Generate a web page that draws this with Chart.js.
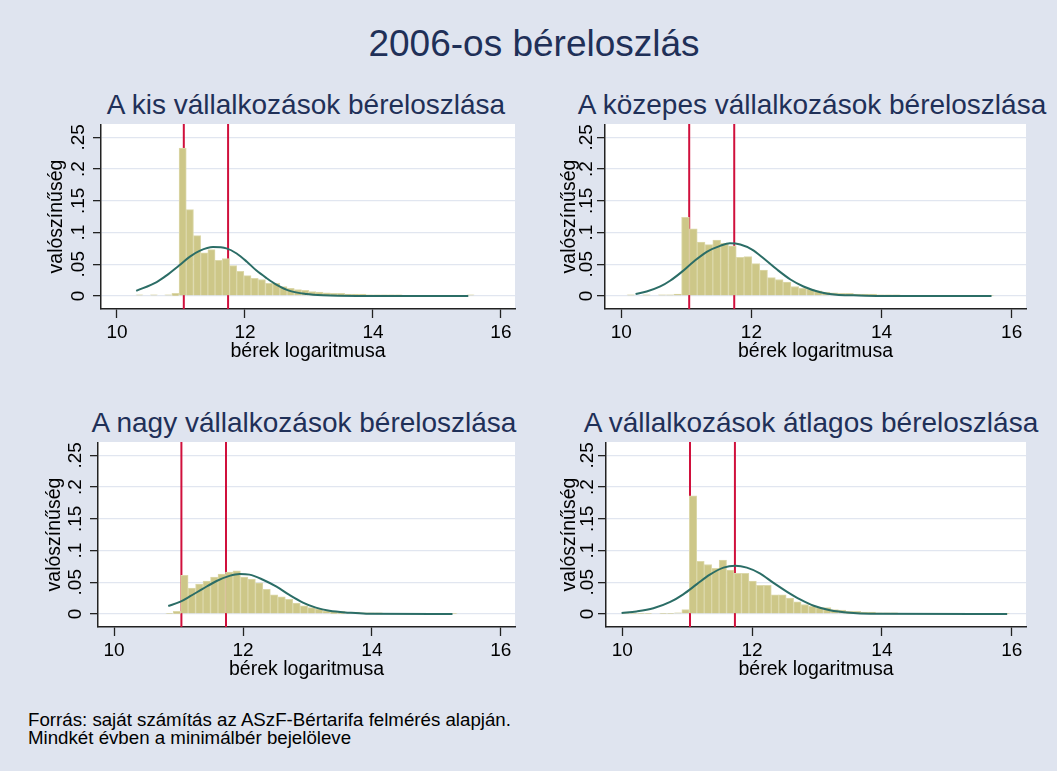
<!DOCTYPE html>
<html>
<head>
<meta charset="utf-8">
<title>2006-os béreloszlás</title>
<script src="https://cdn.jsdelivr.net/npm/chart.js@4.4.1/dist/chart.umd.min.js"></script>
<style>
  html, body { margin: 0; padding: 0; }
  body {
    width: 1057px; height: 771px; position: relative; overflow: hidden;
    background: #dfe4ef;
    font-family: "Liberation Sans", Arial, sans-serif;
  }
  .main-title {
    position: absolute; left: 0; top: 25px; width: 1068px;
    text-align: center; font-size: 37px; line-height: 37px; color: #1f3058;
  }
  .panel-title {
    position: absolute; width: 600px; text-align: center;
    font-size: 28px; line-height: 28px; color: #1f3058; white-space: nowrap;
  }
  .note {
    position: absolute; left: 28px; top: 711px;
    font-size: 18.7px; line-height: 18.3px; color: #000;
  }
  canvas { position: absolute; }
</style>
</head>
<body>

<div class="main-title">2006-os béreloszlás</div>

<div class="panel-title" style="left: 6px; top: 91px;">A kis vállalkozások béreloszlása</div>
<div class="panel-title" style="left: 512px; top: 91px;">A közepes vállalkozások béreloszlása</div>
<div class="panel-title" style="left: 4px; top: 409px;">A nagy vállalkozások béreloszlása</div>
<div class="panel-title" style="left: 511px; top: 409px;">A vállalkozások átlagos béreloszlása</div>

<canvas id="kis" width="510" height="239" style="left: 20px; top: 124px;"></canvas>
<canvas id="kozepes" width="515" height="239" style="left: 530px; top: 124px;"></canvas>
<canvas id="nagy" width="510" height="239" style="left: 20px; top: 442px;"></canvas>
<canvas id="atlag" width="515" height="239" style="left: 530px; top: 442px;"></canvas>

<div class="note">Forrás: saját számítás az ASzF-Bértarifa felmérés alapján.<br>Mindkét évben a minimálbér bejelöleve</div>

<script>
// axes
var xTicks = [10, 12, 14, 16];
var yTicks = [0, 0.05, 0.1, 0.15, 0.2, 0.25];
var yTickLabels = ['0', '.05', '.1', '.15', '.2', '.25'];
var xRange = [9.75, 16.22];
var yRange = [-0.0205, 0.271];

// minimálbér (log), both years
var minWage = [11.044, 11.736];

// histograms: first bin edge, bin width, bar heights (fraction)
var kisStart = 10.295, kisWidth = 0.1125;
var kisBars = [0.002, 0, 0.002, 0, 0.002, 0.004,
  0.233, 0.136, 0.095, 0.068, 0.073, 0.056, 0.059, 0.048, 0.039, 0.032, 0.028,
  0.026, 0.020, 0.020, 0.015, 0.012, 0.010, 0.009, 0.007, 0.006, 0.005, 0.004,
  0.004, 0.003, 0.003, 0.003, 0.002, 0.002, 0.002, 0.002, 0.002, 0.001, 0.001,
  0.001, 0.001, 0.001, 0.001, 0.001, 0.001, 0.001, 0.002];

var kozepesStart = 10.087, kozepesWidth = 0.12;
var kozepesBars = [0.002, 0, 0.002, 0, 0.002, 0.002, 0.003,
  0.124, 0.106, 0.085, 0.081, 0.088, 0.083, 0.079, 0.061, 0.062, 0.051, 0.041,
  0.029, 0.026, 0.022, 0.015, 0.012, 0.011, 0.008, 0.006, 0.005, 0.004,
  0.004, 0.003, 0.003, 0.003, 0.002, 0.002, 0.002, 0.001, 0.001, 0.001, 0.001,
  0.001, 0.001, 0.001, 0.001, 0.001, 0.001, 0.001, 0.001];

var nagyStart = 10.80, nagyWidth = 0.116;
var nagyBars = [0.001, 0.004,
  0.061, 0.041, 0.047, 0.052, 0.058, 0.063, 0.066, 0.068, 0.058, 0.055, 0.049,
  0.039, 0.030, 0.027, 0.023, 0.017, 0.013, 0.010, 0.008, 0.005, 0.004, 0.004,
  0.003, 0.003, 0.002, 0.002, 0.002, 0.001, 0.001, 0.001, 0.001, 0.001, 0.001,
  0.001, 0.001, 0.001, 0.001];

var atlagStart = 10.0, atlagWidth = 0.1148;
var atlagBars = [0.001, 0.001, 0.001, 0.001, 0, 0.001, 0.001, 0.002, 0.007,
  0.186, 0.083, 0.078, 0.072, 0.085, 0.069, 0.064, 0.064, 0.052, 0.045, 0.045,
  0.030, 0.030, 0.025, 0.019, 0.015, 0.012, 0.010, 0.010, 0.007, 0.006, 0.004,
  0.004, 0.003, 0.003, 0.002, 0.002, 0.002, 0.001, 0.001, 0.001, 0.001, 0.001,
  0.001, 0.001, 0.001, 0.001, 0.001, 0.001, 0.001, 0.001, 0.001, 0.001];

// fitted normal curves
var kisCurveX = [10.30, 10.62, 10.77, 10.97, 11.14, 11.29, 11.50, 11.71, 11.87, 12.03,
  12.18, 12.34, 12.49, 12.70, 12.96, 13.22, 13.75, 15.49];
var kisCurveY = [0.008, 0.022, 0.032, 0.048, 0.062, 0.071, 0.077, 0.075, 0.067, 0.054,
  0.040, 0.028, 0.018, 0.008, 0.003, 0.001, 0, 0];

var kozepesCurveX = [10.22, 10.39, 10.60, 10.75, 10.93, 11.11, 11.32, 11.52, 11.67, 11.83,
  12.01, 12.19, 12.39, 12.60, 12.80, 13.06, 13.31, 13.57, 13.98, 15.69];
var kozepesCurveY = [0.003, 0.007, 0.015, 0.024, 0.038, 0.054, 0.070, 0.079, 0.083, 0.081,
  0.073, 0.059, 0.042, 0.026, 0.015, 0.006, 0.002, 0.001, 0, 0];

var nagyCurveX = [10.84, 11.02, 11.18, 11.38, 11.59, 11.79, 11.95, 12.10, 12.31, 12.52,
  12.72, 12.93, 13.13, 13.34, 13.65, 13.91, 15.25];
var nagyCurveY = [0.0126, 0.019, 0.028, 0.040, 0.052, 0.060, 0.063, 0.062, 0.054, 0.043,
  0.030, 0.018, 0.010, 0.005, 0.002, 0.0005, 0];

var atlagCurveX = [9.99, 10.22, 10.48, 10.74, 10.94, 11.15, 11.35, 11.56, 11.74, 11.92,
  12.12, 12.33, 12.54, 12.74, 12.95, 13.20, 13.51, 13.82, 15.93];
var atlagCurveY = [0.0016, 0.004, 0.009, 0.019, 0.031, 0.047, 0.062, 0.073, 0.076, 0.073,
  0.064, 0.049, 0.035, 0.023, 0.013, 0.006, 0.002, 0.0005, 0];


Chart.defaults.font.family = '"Liberation Sans", Arial, sans-serif';
Chart.defaults.color = '#000';

// white plot region
var plotBg = {
  id: 'plotBg',
  beforeDraw: function (chart) {
    var a = chart.chartArea, ctx = chart.ctx;
    ctx.save();
    ctx.fillStyle = '#ffffff';
    ctx.fillRect(a.left, a.top, a.right - a.left, a.bottom - a.top);
    ctx.restore();
  }
};

function histPoints(start, width, heights) {
  return heights.map(function (h, i) { return {x: start + (i + 0.5) * width, y: h}; });
}

function curvePoints(xs, ys) {
  return xs.map(function (x, i) { return {x: x, y: ys[i]}; });
}

function makePanel(id, bars, curve, lay) {
  var datasets = [
    {
      type: 'line', data: curve, order: 0,
      borderColor: '#2b6d66', borderWidth: 2, pointRadius: 0,
      cubicInterpolationMode: 'monotone'
    },
    {
      type: 'bar', data: bars, order: 1,
      backgroundColor: '#cdc788', borderColor: '#dcd8aa', borderWidth: 1,
      barPercentage: 1, categoryPercentage: 1
    }
  ];
  minWage.forEach(function (m) {
    datasets.push({
      type: 'line', order: 2,
      data: [{x: m, y: yRange[0]}, {x: m, y: yRange[1]}],
      borderColor: '#d0103c', borderWidth: 2, pointRadius: 0
    });
  });

  return new Chart(document.getElementById(id), {
    type: 'bar',
    data: {datasets: datasets},
    plugins: [plotBg],
    options: {
      responsive: false,
      animation: false,
      layout: {padding: {left: 0, top: 0, bottom: 0, right: lay.padRight}},
      plugins: {legend: {display: false}, tooltip: {enabled: false}},
      scales: {
        x: {
          type: 'linear', min: xRange[0], max: xRange[1], offset: false,
          afterBuildTicks: function (s) { s.ticks = xTicks.map(function (v) { return {value: v}; }); },
          afterFit: function (s) { s.height = 54; s.paddingLeft = 0; s.paddingRight = 0; },
          grid: {offset: false, drawOnChartArea: false, tickLength: 9, tickColor: '#222', tickWidth: 1.3},
          border: {color: '#222', width: 1.5},
          ticks: {font: {size: 19}, padding: 3, autoSkip: false, maxRotation: 0,
                  callback: function (v) { return String(v); }},
          title: {display: true, text: 'bérek logaritmusa', font: {size: 19.5}, padding: 0}
        },
        y: {
          type: 'linear', min: yRange[0], max: yRange[1],
          afterBuildTicks: function (s) { s.ticks = yTicks.map(function (v) { return {value: v}; }); },
          afterFit: function (s) { s.width = lay.yWidth; s.paddingTop = 0; s.paddingBottom = 0; },
          grid: {color: '#e1e6f0', lineWidth: 1.3, tickLength: 8, tickColor: '#222', tickWidth: 1.3},
          border: {color: '#222', width: 1.5},
          ticks: {font: {size: 19}, minRotation: 90, maxRotation: 90, crossAlign: 'center',
                  padding: lay.tickPad, autoSkip: false,
                  callback: function (v, i) { return yTickLabels[i]; }},
          title: {display: true, text: 'valószínűség', font: {size: 19.5},
                  padding: {top: lay.titlePad, bottom: 0}}
        }
      }
    }
  });
}

makePanel('kis', histPoints(kisStart, kisWidth, kisBars),
  curvePoints(kisCurveX, kisCurveY), {yWidth: 81, padRight: 15, tickPad: 1.5, titlePad: 25.3});
makePanel('kozepes', histPoints(kozepesStart, kozepesWidth, kozepesBars),
  curvePoints(kozepesCurveX, kozepesCurveY), {yWidth: 75, padRight: 19, tickPad: -3, titlePad: 28.3});
makePanel('nagy', histPoints(nagyStart, nagyWidth, nagyBars),
  curvePoints(nagyCurveX, nagyCurveY), {yWidth: 78, padRight: 15, tickPad: 1.5, titlePad: 22.6});
makePanel('atlag', histPoints(atlagStart, atlagWidth, atlagBars),
  curvePoints(atlagCurveX, atlagCurveY), {yWidth: 76, padRight: 19, tickPad: -3, titlePad: 28.3});
</script>
</body>
</html>
